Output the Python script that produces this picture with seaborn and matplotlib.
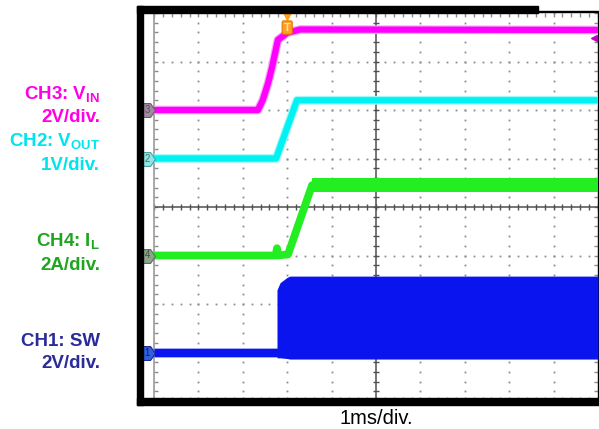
import numpy as np
import seaborn as sns
import matplotlib.pyplot as plt
from matplotlib.patches import Rectangle
from matplotlib.path import Path

# time in ms (1 ms/div, 10 div across); values in channel units
vin_t = [0.0, 2.34, 2.45, 2.57, 2.66, 2.79, 3.00, 3.29, 10.0]
vin_v = [0.0, 0.0, 0.41, 1.11, 1.77, 2.89, 3.18, 3.32, 3.30]

vout_t = [0.0, 2.75, 3.22, 10.0]
vout_v = [0.0, 0.0, 1.20, 1.20]

il_t = [0.0, 2.74, 2.77, 2.80, 3.02, 3.56, 10.0]
il_a = [0.0, 0.0, 0.30, 0.0, 0.05, 2.90, 2.90]
il_rip_t = [3.56, 10.0]
il_rip_lo = [2.62, 2.62]
il_rip_hi = [3.18, 3.18]

sw_t = [0.0, 2.77, 2.77, 2.84, 3.00, 3.06, 10.0]
sw_hi = [0.18, 0.18, 2.58, 2.88, 3.10, 3.15, 3.15]
sw_lo = [-0.18, -0.18, -0.22, -0.22, -0.25, -0.27, -0.27]

# channel offsets (div) and scales (unit/div)
ch_offset = {"1": 1, "2": 5, "3": 6, "4": 3}
ch_scale = {"1": 2, "2": 1, "3": 2, "4": 2}

label_lines = ["CH3: V$_{\\mathbf{IN}}$", "2V/div.", "CH2: V$_{\\mathbf{OUT}}$", "1V/div.",
               "CH4: I$_{\\mathbf{L}}$", "2A/div.", "CH1: SW", "2V/div."]
label_colors = ["#ff00e6", "#ff00e6", "#00e4ec", "#00e4ec",
                "#1fa51f", "#1fa51f", "#2b2b99", "#2b2b99"]
label_y = [95, 117, 142, 165, 242, 265, 342, 364]

sns.set_theme(style="white")
plt.rcParams['font.family'] = ['Liberation Sans', 'DejaVu Sans']
plt.rcParams['mathtext.fontset'] = 'custom'
plt.rcParams['mathtext.bf'] = 'Liberation Sans:bold'
plt.rcParams['mathtext.rm'] = 'Liberation Sans'

W, H = 599, 429
fig = plt.figure(figsize=(W / 100, H / 100), dpi=100)
fig.patch.set_facecolor('white')
ax = fig.add_axes([154 / W, (H - 401) / H, 444 / W, 388 / H])
ax.set_facecolor('white')
ax.set_xlim(0, 10)
ax.set_ylim(0, 8)


def scr(ch, vals):
    return [ch_offset[ch] + v / ch_scale[ch] for v in vals]


# graticule
gx = np.arange(0, 10.001, 0.2)
gy = np.arange(0, 8.001, 0.2)
for xv in [1, 2, 3, 4, 6, 7, 8, 9]:
    ax.plot(np.full_like(gy, xv), gy, ls='none', marker='s', ms=1.3, mew=0, color='#8c8c8c', zorder=1)
for yv in [1, 2, 3, 5, 6, 7]:
    ax.plot(gx, np.full_like(gx, yv), ls='none', marker='s', ms=1.3, mew=0, color='#8c8c8c', zorder=1)
ax.axhline(4, color='#505050', lw=1.1, zorder=1)
ax.axvline(5, color='#505050', lw=1.1, zorder=1)
ax.plot(gx, np.full_like(gx, 4), ls='none', marker='|', ms=5, mew=1, color='#505050', zorder=1)
ax.plot(np.full_like(gy, 5), gy, ls='none', marker='_', ms=5, mew=1, color='#505050', zorder=1)

ax.set_xticks(gx)
ax.set_yticks(gy)
ax.tick_params(which='both', direction='in', length=3, width=1, color='#8c8c8c',
               top=True, right=True, bottom=True, left=True,
               labelleft=False, labelbottom=False)
ax.set_xlabel('')
ax.set_ylabel('')
for s in ['top', 'bottom']:
    ax.spines[s].set_visible(False)
ax.spines['left'].set_color('#9a9a9a')
ax.spines['left'].set_linewidth(1.2)
ax.spines['right'].set_color('black')
ax.spines['right'].set_linewidth(1)

# traces
ax.fill_between(sw_t, scr("1", sw_lo), scr("1", sw_hi), color='#0a14ee', lw=0, zorder=3)

ax.fill_between(il_rip_t, scr("4", il_rip_lo), scr("4", il_rip_hi), color='#22ee22', lw=0, zorder=3)
sns.lineplot(x=il_t, y=scr("4", il_a), ax=ax, color='#22ee22', linewidth=5.6,
             estimator=None, sort=False, zorder=3)

sns.lineplot(x=vout_t, y=scr("2", vout_v), ax=ax, color='#a6f7f7', linewidth=6.3,
             estimator=None, sort=False, zorder=3)
sns.lineplot(x=vout_t, y=scr("2", vout_v), ax=ax, color='#00f2f2', linewidth=4.6,
             estimator=None, sort=False, zorder=3)

sns.lineplot(x=vin_t, y=scr("3", vin_v), ax=ax, color='#f7a6f7', linewidth=6.2,
             estimator=None, sort=False, zorder=3)
sns.lineplot(x=vin_t, y=scr("3", vin_v), ax=ax, color='#ff00ff', linewidth=4.5,
             estimator=None, sort=False, zorder=3)

# channel markers on the left edge
pent = Path([(-1, -1), (0.3, -1), (1, 0), (0.3, 1), (-1, 1), (-1, -1)],
            [Path.MOVETO] + [Path.LINETO] * 4 + [Path.CLOSEPOLY])
marker_style = {"3": ('#a08aa0', '#6a5a6a', '#5a4a5a'),
                "2": ('#90e4e4', '#50a0a0', '#407070'),
                "4": ('#8aa58a', '#5a705a', '#3a503a'),
                "1": ('#3060e0', '#1a2a90', '#1a1a60')}
for ch, (fc, ec, tc) in marker_style.items():
    ax.plot(-0.13, ch_offset[ch], marker=pent, ms=10, mfc=fc, mec=ec, mew=0.8,
            clip_on=False, zorder=5)
    ax.text(-0.15, ch_offset[ch], ch, fontsize=7, ha='center', va='center',
            color=tc, clip_on=False, zorder=6)

# trigger marker and level arrow
ax.plot(3.0, 7.93, marker='v', ms=6, color='#ff9f1a', clip_on=False, zorder=6)
ax.text(3.0, 7.7, 'T', fontsize=8, ha='center', va='center', color='#ffe0b0',
        fontweight='bold', zorder=6,
        bbox=dict(boxstyle='round,pad=0.15', fc='#ffa020', ec='#e07800', lw=0.8))
ax.plot(9.9, 7.48, marker='<', ms=5, color='#c000c0', clip_on=False, zorder=6)
ax.plot([9.9, 10.0], [7.48, 7.48], color='#c000c0', lw=1.2, zorder=6)

# black frame
def px_rect(x0, y0, x1, y1):
    fig.patches.append(Rectangle((x0 / W, (H - y1) / H), (x1 - x0) / W, (y1 - y0) / H,
                                 transform=fig.transFigure, color='black', zorder=10))

px_rect(137, 6, 143, 405)
px_rect(137, 6, 538, 13)
px_rect(538, 11, 599, 12)
px_rect(137, 398, 599, 405)

# labels
for txt, c, y in zip(label_lines, label_colors, label_y):
    fig.text(100 / W, (H - y) / H, txt, ha='right', va='center', fontsize=13.5,
             fontweight='bold', color=c)
fig.text(376 / W, (H - 418) / H, '1ms/div.', ha='center', va='center', fontsize=14.5,
         color='black')

plt.savefig('out.png', dpi=100)
